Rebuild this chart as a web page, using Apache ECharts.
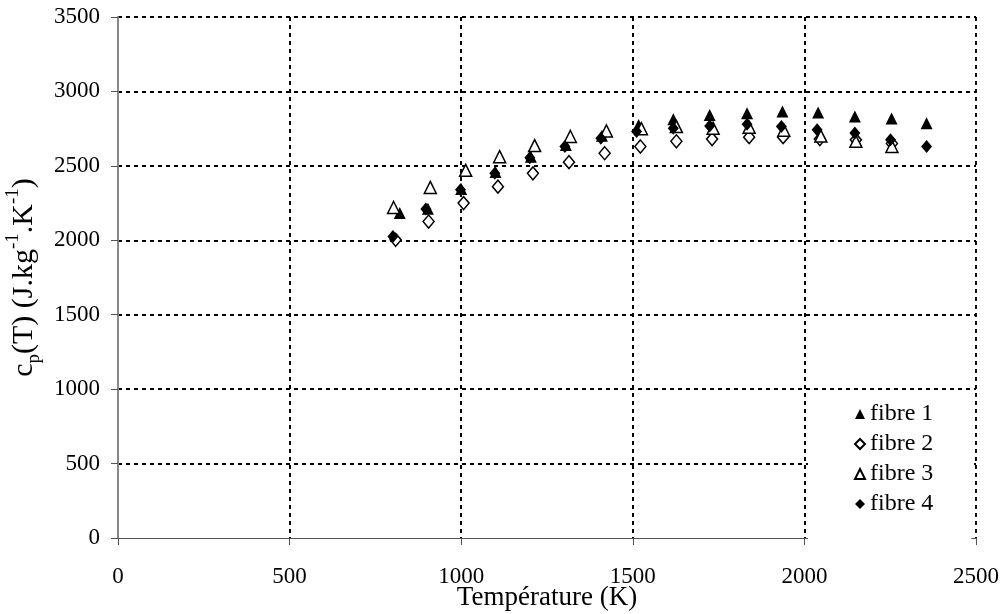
<!DOCTYPE html>
<html>
<head>
<meta charset="utf-8">
<script src="https://cdn.jsdelivr.net/npm/echarts@6/dist/echarts.min.js"></script>
<style>
html,body{margin:0;padding:0;background:#fff;}
#chart{width:1004px;height:614px;}
</style>
</head>
<body>
<div id="chart"></div>
<script>
// Temperature (K) and cp (J/kg/K)
const fibre1T = [821, 903, 1000, 1100, 1203, 1305, 1410, 1517, 1618, 1724, 1833, 1936, 2040, 2147, 2254, 2356];
const fibre1Cp = [2183, 2212, 2345, 2458, 2562, 2640, 2702, 2775, 2813, 2842, 2854, 2865, 2858, 2831, 2818, 2786];

const fibre2T = [809, 905, 1007, 1107, 1209, 1314, 1418, 1522, 1627, 1731, 1839, 1938, 2045, 2150, 2255];
const fibre2Cp = [2003, 2126, 2250, 2360, 2450, 2525, 2585, 2630, 2665, 2680, 2693, 2693, 2680, 2675, 2650];

const fibre3T = [803, 910, 1013, 1112, 1214, 1318, 1423, 1525, 1627, 1734, 1839, 1940, 2048, 2150, 2255];
const fibre3Cp = [2220, 2355, 2470, 2562, 2636, 2697, 2735, 2750, 2764, 2753, 2760, 2740, 2700, 2665, 2630];

const fibre4T = [801, 897, 998, 1098, 1200, 1302, 1407, 1511, 1618, 1724, 1833, 1933, 2037, 2147, 2251, 2356];
const fibre4Cp = [2025, 2210, 2340, 2451, 2555, 2630, 2686, 2730, 2753, 2768, 2780, 2764, 2742, 2720, 2675, 2630];

const seriesNames = ['fibre 1', 'fibre 2', 'fibre 3', 'fibre 4'];
const xAxisTitle = 'Température (K)';

function pairs(xs, ys) { return xs.map((x, i) => [x, ys[i]]); }

const FONT = '"Liberation Serif", "Times New Roman", serif';
const chart = echarts.init(document.getElementById('chart'), null, {renderer: 'canvas'});

const grid = {left: 118, right: 28, top: 17, bottom: 76, containLabel: false, outerBoundsMode: 'none'};
const dotted = {color: '#000', width: 2, type: [4, 4]};
const plain = v => String(v);

chart.setOption({
  animation: false,
  backgroundColor: '#fff',
  grid: grid,
  xAxis: {
    type: 'value',
    min: 0, max: 2500, interval: 500,
    name: xAxisTitle,
    nameLocation: 'middle',
    nameGap: 46,
    nameMoveOverlap: false,
    nameTextStyle: {fontFamily: FONT, fontSize: 27, color: '#000', lineHeight: 27},
    axisLine: {show: true, lineStyle: {color: '#555', width: 1}},
    axisTick: {show: true, length: 7, lineStyle: {color: '#555', width: 1}},
    axisLabel: {fontFamily: FONT, fontSize: 23, color: '#000', margin: 27, formatter: plain},
    splitLine: {show: true, showMinLine: false, lineStyle: dotted}
  },
  yAxis: {
    type: 'value',
    min: 0, max: 3500, interval: 500,
    name: '{a|c}{b|p}{a|(T) (J.kg}{c|-1}{a|.K}{c|-1}{a|)}',
    nameLocation: 'middle',
    nameGap: 74,
    nameMoveOverlap: false,
    nameTextStyle: {
      fontFamily: FONT, fontSize: 30, color: '#000',
      rich: {
        a: {fontFamily: FONT, fontSize: 30, color: '#000', lineHeight: 40},
        b: {fontFamily: FONT, fontSize: 19, color: '#000', lineHeight: 19, verticalAlign: 'bottom'},
        c: {fontFamily: FONT, fontSize: 19, color: '#000', lineHeight: 19, verticalAlign: 'top'}
      }
    },
    axisLine: {show: true, lineStyle: {color: '#888', width: 2}},
    axisTick: {show: true, length: 7, lineStyle: {color: '#555', width: 1}},
    axisLabel: {fontFamily: FONT, fontSize: 23, color: '#000', margin: 18, formatter: plain},
    splitLine: {show: true, showMinLine: false, lineStyle: dotted}
  },
  legend: {
    orient: 'vertical',
    left: 808, top: 395,
    padding: [7, 38, 23, 46],
    itemGap: 6,
    itemWidth: 10, itemHeight: 10,
    backgroundColor: '#fff',
    textStyle: {fontFamily: FONT, fontSize: 24, color: '#000'},
    data: seriesNames
  },
  series: [
    {name: seriesNames[0], type: 'scatter', symbol: 'triangle', symbolSize: 12,
     itemStyle: {color: '#000', borderColor: '#000', borderWidth: 0, opacity: 1},
     data: pairs(fibre1T, fibre1Cp)},
    {name: seriesNames[1], type: 'scatter', symbol: 'diamond', symbolSize: [11, 13],
     itemStyle: {color: '#fff', borderColor: '#000', borderWidth: 1.5, opacity: 1},
     data: pairs(fibre2T, fibre2Cp)},
    {name: seriesNames[2], type: 'scatter', symbol: 'triangle', symbolSize: 12,
     itemStyle: {color: '#fff', borderColor: '#000', borderWidth: 1.5, opacity: 1},
     data: pairs(fibre3T, fibre3Cp)},
    {name: seriesNames[3], type: 'scatter', symbol: 'diamond', symbolSize: [11, 13],
     itemStyle: {color: '#000', borderColor: '#000', borderWidth: 0, opacity: 1},
     data: pairs(fibre4T, fibre4Cp)}
  ]
});
</script>
</body>
</html>
